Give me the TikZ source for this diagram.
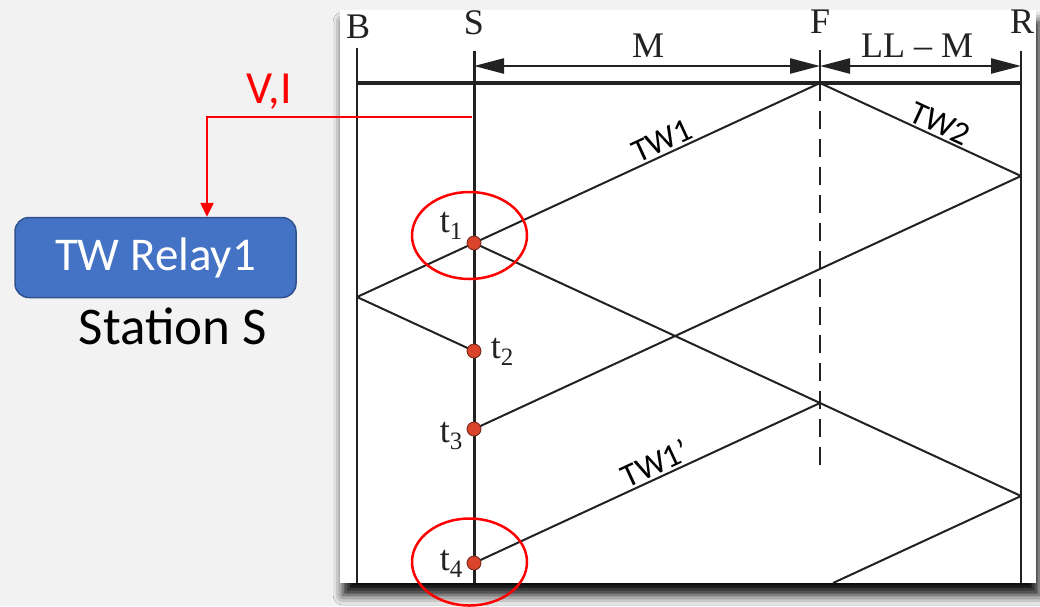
\documentclass[tikz,border=0pt]{standalone}
\usepackage{fontspec}
\setmainfont{Liberation Serif}
\newfontfamily\calib{Carlito}
\usetikzlibrary{arrows.meta,shadows.blur}
\definecolor{bg}{HTML}{F2F2F2}
\definecolor{ink}{HTML}{222222}
\definecolor{dotred}{HTML}{D9442B}
\definecolor{dotedge}{HTML}{6B2416}
\definecolor{relayblue}{HTML}{4472C4}
\definecolor{relayedge}{HTML}{2F528F}
\definecolor{pured}{HTML}{FF0000}
\newcommand{\tsub}[1]{t\raisebox{-7pt}{\fontsize{25}{25}\selectfont #1}}
\tikzset{
  wave/.style={draw=ink, line width=2pt},
  vline/.style={draw=ink, line width=2.4pt},
  sline/.style={draw=ink, line width=3pt},
  busline/.style={draw=ink, line width=4pt},
  dimline/.style={draw=ink, line width=2.4pt, {Triangle[length=30pt,width=15pt]}-{Triangle[length=30pt,width=15pt]}},
  fdash/.style={draw=ink, line width=2.4pt, dash pattern=on 18pt off 10pt},
  tdot/.style={circle, fill=dotred, draw=dotedge, line width=0.8pt, inner sep=0pt, minimum size=14pt},
  tlab/.style={font=\fontsize{36}{36}\selectfont, text=ink, inner sep=1pt},
  toplab/.style={font=\fontsize{36}{36}\selectfont, text=ink, inner sep=0pt},
  twlab/.style={font=\calib\fontsize{33}{33}\selectfont, sloped, above, inner sep=2pt},
  redring/.style={draw=pured, line width=2.5pt},
  redline/.style={draw=pured, line width=2.5pt},
  relaybox/.style={rectangle, rounded corners=14pt, fill=relayblue, draw=relayedge, line width=1.5pt,
    minimum width=281pt, minimum height=80pt, text=white, font=\calib\fontsize{47}{47}\selectfont},
}
\begin{document}
\begin{tikzpicture}[x=1pt,y=-1pt]
\useasboundingbox (0,0) rectangle (1040,606);
\clip (0,0) rectangle (1040,606);
\fill[bg] (0,0) rectangle (1040,606);
% panel with shadow
\fill[white, blur shadow={shadow xshift=3pt, shadow yshift=-12pt, shadow blur radius=10pt, shadow opacity=95}] (340,10) rectangle (1036,583);

% coordinates
\coordinate (Btop) at (357,48);  \coordinate (Bbot) at (357,583);
\coordinate (Stop) at (474,51);  \coordinate (Sbot) at (474,583);
\coordinate (Rtop) at (1021,51); \coordinate (Rbot) at (1021,583);
\coordinate (Ftop) at (820,50);  \coordinate (Fbus) at (820,83); \coordinate (Fbot) at (820,472);
\coordinate (Bbus) at (357,83);  \coordinate (Rbus) at (1021,83);
\coordinate (dS) at (474,66); \coordinate (dF) at (820,66); \coordinate (dR) at (1021,66);
\coordinate (F0) at (820,83);
\coordinate (B1) at (357,297);
\coordinate (R1) at (1021,176);
\coordinate (F2) at (820,403);
\coordinate (R2) at (1021,496);
\coordinate (E) at (833,583);
\coordinate (t1) at (474,243);
\coordinate (t2) at (474,351);
\coordinate (t3) at (474,429);
\coordinate (t4) at (474,563);

% top labels
\node[toplab] (lB) at (358,27) {B};
\node[toplab] (lS) at (474,23) {S};
\node[toplab] (lF) at (820,22) {F};
\node[toplab] (lR) at (1022,22) {R};
\node[toplab] (lM) at (648,46) {M};
\node[toplab] (lLL) at (917,46) {LL – M};

% line structure
\draw[vline] (Btop) -- (Bbot);
\draw[vline] (Rtop) -- (Rbot);
\draw[busline] (Bbus) -- (Rbus);
\draw[vline] (Ftop) -- (Fbus);
\draw[fdash] (Fbus) -- (Fbot);
\draw[dimline] (dS) -- (dF);
\draw[dimline] (dF) -- (dR);

% waves
\draw[wave] (F0) -- node[twlab, pos=0.44] {TW1} (t1);
\draw[wave] (t1) -- (B1);
\draw[wave] (B1) -- (t2);
\draw[wave] (F0) -- node[twlab, pos=0.57] {TW2} (R1);
\draw[wave] (R1) -- (t3);
\draw[wave] (t1) -- (F2);
\draw[wave] (F2) -- (R2);
\draw[wave] (t4) -- node[twlab, pos=0.54] {TW1’} (F2);
\draw[wave] (R2) -- (E);
\draw[sline] (Stop) -- (Sbot);

% dots and time labels
\node[tdot] (d1) at (t1) {};
\node[tdot] (d2) at (t2) {};
\node[tdot] (d3) at (t3) {};
\node[tdot] (d4) at (t4) {};
\node[tlab] (lt1) at (451,226) {\tsub{1}};
\node[tlab] (lt2) at (502,352) {\tsub{2}};
\node[tlab] (lt3) at (451,436) {\tsub{3}};
\node[tlab] (lt4) at (451,564) {\tsub{4}};

% red rings
\draw[redring] (469.5,235.5) ellipse [x radius=57.5, y radius=43.5];
\draw[redring] (469.5,562) ellipse [x radius=57.5, y radius=43.5];

% relay
\node[relaybox] (relay) at (155.5,257.5) {TW Relay1};
\node[font=\calib\fontsize{53}{53}\selectfont, text=black] (station) at (173,326) {Station S};
\coordinate (tap) at (472,117);
\draw[redline, -{Triangle[length=14pt,width=13pt]}] (tap) -| ([xshift=51.5pt]relay.north);
\node[font=\calib\fontsize{46}{46}\selectfont, text=pured, anchor=base] (vi) at (269,103) {V,I};
\end{tikzpicture}
\end{document}
